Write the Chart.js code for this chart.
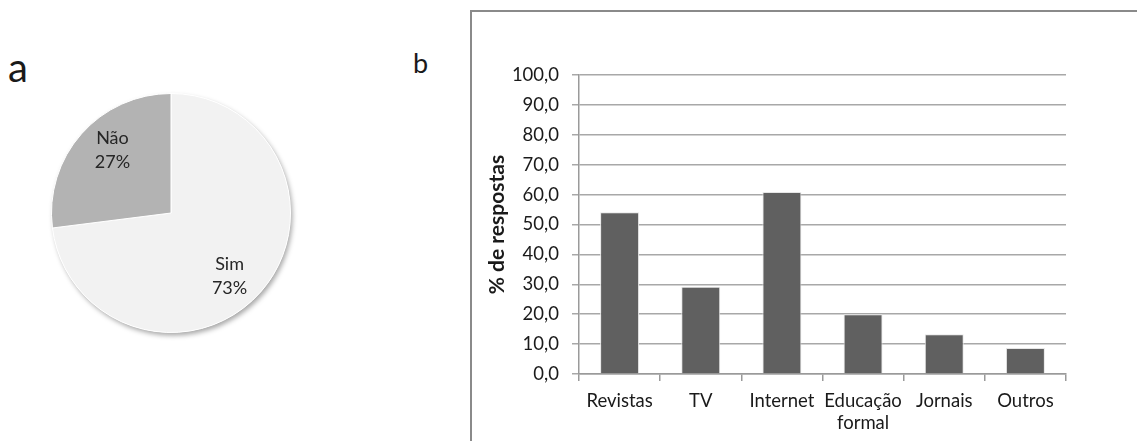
<!DOCTYPE html>
<html>
<head>
<meta charset="utf-8">
<script src="https://cdn.jsdelivr.net/npm/chart.js"></script>
<style>
  html, body { margin: 0; padding: 0; background: #fff; }
  body { width: 1137px; height: 441px; position: relative; overflow: hidden; font-family: Lato, sans-serif; color: #1a1a1a; }
  .tag { position: absolute; line-height: 1; }
  #tagA { left: 8px; top: 47px; font-size: 40px; }
  #tagB { left: 413px; top: 49px; font-size: 27px; }
  #frame { position: absolute; left: 470px; top: 10px; width: 1000px; height: 1000px; border: 2px solid #8a8a8a; }
  #pieChart { position: absolute; left: 41px; top: 83px; }
  #barChart { position: absolute; left: 470px; top: 11px; }
</style>
</head>
<body>
<div class="tag" id="tagA">a</div>
<div class="tag" id="tagB">b</div>
<div id="frame"></div>
<canvas id="pieChart" width="260" height="260"></canvas>
<canvas id="barChart" width="667" height="430"></canvas>
<script>
// pie (a)
const pieLabels = ["Sim", "Não"];
const pieValues = [73, 27];
const pieColors = ["#f2f2f2", "#b3b3b3"];

// bars (b)
const barLabels = ["Revistas", "TV", "Internet", ["Educação", "formal"], "Jornais", "Outros"];
const barValues = [54.1, 29.2, 60.9, 20.0, 13.3, 8.7];
const yTicks = ["0,0", "10,0", "20,0", "30,0", "40,0", "50,0", "60,0", "70,0", "80,0", "90,0", "100,0"];

Chart.defaults.font.family = "Lato, sans-serif";
Chart.defaults.color = "#1a1a1a";

// soft shadow behind the whole pie + the "name / pct" labels inside slices
const pieDeco = {
  id: "pieDeco",
  beforeDatasetsDraw(chart) {
    const arc = chart.getDatasetMeta(0).data[0];
    const ctx = chart.ctx;
    ctx.save();
    ctx.shadowColor = "rgba(0,0,0,0.35)";
    ctx.shadowBlur = 5;
    ctx.shadowOffsetX = 2;
    ctx.shadowOffsetY = 3;
    ctx.fillStyle = "#fff";
    ctx.beginPath();
    ctx.arc(arc.x, arc.y, arc.outerRadius, 0, Math.PI * 2);
    ctx.fill();
    ctx.restore();
  },
  afterDatasetsDraw(chart) {
    const ctx = chart.ctx;
    const total = pieValues.reduce((a, b) => a + b, 0);
    ctx.save();
    ctx.font = "18px Lato, sans-serif";
    ctx.fillStyle = "#262626";
    ctx.textAlign = "center";
    ctx.textBaseline = "middle";
    chart.getDatasetMeta(0).data.forEach((arc, i) => {
      const mid = (arc.startAngle + arc.endAngle) / 2 + 0.1;
      const r = arc.outerRadius * 0.72;
      const x = arc.x + Math.cos(mid) * r;
      const y = arc.y + Math.sin(mid) * r;
      ctx.fillText(pieLabels[i], x, y - 12);
      ctx.fillText(Math.round(pieValues[i] / total * 100) + "%", x, y + 12);
    });
    ctx.restore();
  }
};

new Chart("pieChart", {
  type: "pie",
  data: {
    labels: pieLabels,
    datasets: [{
      data: pieValues,
      backgroundColor: pieColors,
      borderColor: "#ffffff",
      borderWidth: 1
    }]
  },
  options: {
    responsive: false,
    animation: false,
    devicePixelRatio: 1,
    layout: { padding: 10 },
    plugins: { legend: { display: false }, tooltip: { enabled: false } }
  },
  plugins: [pieDeco]
});

new Chart("barChart", {
  type: "bar",
  data: {
    labels: barLabels,
    datasets: [{
      data: barValues,
      backgroundColor: "#606060",
      borderColor: "#e6e6e6",
      borderWidth: 1,
      categoryPercentage: 1,
      barPercentage: 0.48
    }]
  },
  options: {
    responsive: false,
    animation: false,
    devicePixelRatio: 1,
    layout: { padding: { top: 64, right: 71, left: 0, bottom: 0 } },
    plugins: { legend: { display: false }, tooltip: { enabled: false } },
    scales: {
      x: {
        afterFit: s => { s.height = 67; },
        grid: { offset: true, drawOnChartArea: false, tickLength: 7, color: "#9a9a9a", lineWidth: 1.5 },
        border: { color: "#9a9a9a", width: 1.5 },
        ticks: { font: { size: 18.5 }, padding: 9, maxRotation: 0, autoSkip: false, color: "#1a1a1a" }
      },
      y: {
        min: 0,
        max: 100,
        afterFit: s => { s.width = 109; },
        grid: { tickLength: 7, color: "#a8a8a8", lineWidth: 1.5 },
        border: { color: "#9a9a9a", width: 1.5 },
        ticks: {
          stepSize: 10,
          padding: 13,
          font: { size: 18.5 },
          color: "#1a1a1a",
          callback: (v, i) => yTicks[i]
        },
        title: {
          display: true,
          text: "% de respostas",
          font: { size: 21, weight: "bold" },
          color: "#1a1a1a",
          padding: { top: 15 }
        }
      }
    }
  }
});
</script>
</body>
</html>
